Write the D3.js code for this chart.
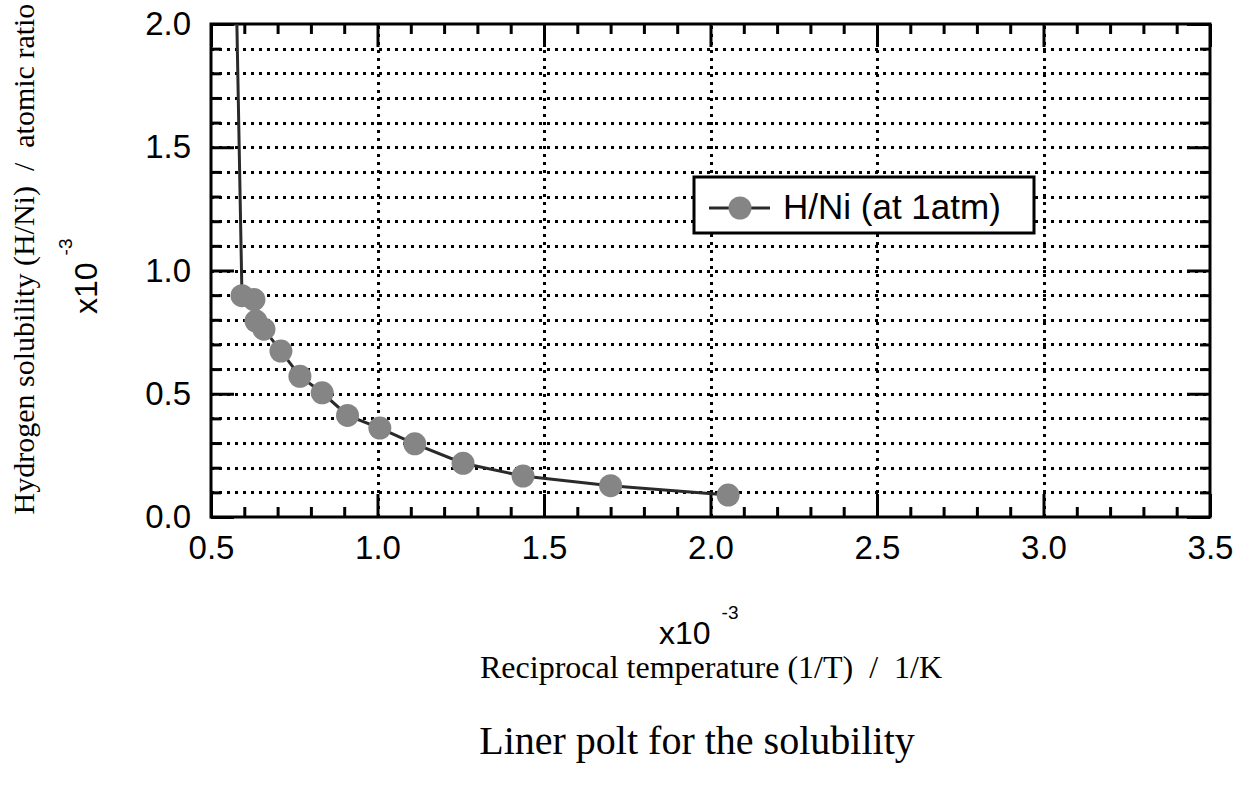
<!DOCTYPE html>
<html><head><meta charset="utf-8">
<script src="https://cdn.jsdelivr.net/npm/d3@7"></script>
<style>body{margin:0;background:#fff} svg{display:block}</style>
</head><body><svg id="chart" width="1245" height="787"></svg>
<script>
// ---- data (x: 1/T in 1e-3 1/K, y: H/Ni in 1e-3) ----
const seriesName = "H/Ni (at 1atm)";
const xValues = [0.577, 0.593, 0.629, 0.635, 0.659, 0.710, 0.767, 0.834, 0.910, 1.007, 1.112, 1.257, 1.437, 1.700, 2.053];
const yValues = [2.05, 0.898, 0.882, 0.795, 0.762, 0.673, 0.571, 0.504, 0.412, 0.361, 0.297, 0.218, 0.166, 0.127, 0.089];
const xTickValues = [0.5, 1.0, 1.5, 2.0, 2.5, 3.0, 3.5];
const xTickLabels = ["0.5", "1.0", "1.5", "2.0", "2.5", "3.0", "3.5"];
const yTickValues = [0.0, 0.5, 1.0, 1.5, 2.0];
const yTickLabels = ["0.0", "0.5", "1.0", "1.5", "2.0"];
const xMinorTicks = d3.range(5, 36).map(i => i / 10);
const yMinorTicks = d3.range(0, 21).map(i => i / 10);
const xGridValues = [1.0, 1.5, 2.0, 2.5, 3.0];
const yGridValues = d3.range(1, 20).map(i => i / 10);
const xTitle = "Reciprocal temperature (1/T)  /  1/K";
const yTitle = "Hydrogen solubility (H/Ni)  /  atomic ratio";
const chartTitle = "Liner polt for the solubility";
const multiplierBase = "x10";
const multiplierExp = "-3";

const SANS = "'Liberation Sans', Arial, Helvetica, sans-serif";
const SERIF = "'Liberation Serif', 'Times New Roman', serif";

const svg = d3.select("#chart");
const L = 211, T = 24, W = 999, H = 493;
const x = d3.scaleLinear().domain([0.5, 3.5]).range([0, W]);
const y = d3.scaleLinear().domain([0, 2]).range([H, 0]);
const g = svg.append("g").attr("transform", `translate(${L},${T})`);

const dotted = sel => sel.selectAll("line")
  .attr("stroke", "#000").attr("stroke-width", 3).attr("stroke-dasharray", "3,5")
  .attr("shape-rendering", "crispEdges");

// gridlines
const gy = g.append("g").call(d3.axisLeft(y).tickValues(yGridValues).tickSize(-W).tickFormat(""));
gy.select(".domain").remove(); dotted(gy);
const gx = g.append("g").attr("transform", `translate(0,${H})`)
  .call(d3.axisBottom(x).tickValues(xGridValues).tickSize(-H).tickFormat(""));
gx.select(".domain").remove(); dotted(gx);

// ticks (inward)
function ticks(axis, vals, size, tr) {
  const a = g.append("g").attr("transform", tr)
    .call(axis.tickValues(vals).tickSize(size).tickFormat(""));
  a.select(".domain").remove();
  a.selectAll("line").attr("stroke", "#000").attr("stroke-width", 3);
}
const isMajor = v => Math.abs(v * 2 - Math.round(v * 2)) < 1e-6;
ticks(d3.axisBottom(x), xMinorTicks.filter(v => !isMajor(v)), -10, `translate(0,${H})`);
ticks(d3.axisBottom(x), xTickValues, -23, `translate(0,${H})`);
ticks(d3.axisTop(x), xMinorTicks.filter(v => !isMajor(v)), -10, `translate(0,0)`);
ticks(d3.axisTop(x), xTickValues, -23, `translate(0,0)`);
ticks(d3.axisLeft(y), yMinorTicks.filter(v => !isMajor(v)), -10, `translate(0,0)`);
ticks(d3.axisLeft(y), yTickValues, -23, `translate(0,0)`);
ticks(d3.axisRight(y), yMinorTicks.filter(v => !isMajor(v)), -10, `translate(${W},0)`);
ticks(d3.axisRight(y), yTickValues, -23, `translate(${W},0)`);

// frame
g.append("rect").attr("width", W).attr("height", H)
  .attr("fill", "none").attr("stroke", "#000").attr("stroke-width", 3);

// tick labels
const xl = g.append("g").attr("transform", `translate(0,${H})`)
  .call(d3.axisBottom(x).tickValues(xTickValues).tickSize(0).tickPadding(19)
    .tickFormat((d, i) => xTickLabels[i]));
xl.select(".domain").remove();
xl.selectAll("text").attr("font-family", SANS).attr("font-size", 33).attr("fill", "#000");
const yl = g.append("g")
  .call(d3.axisLeft(y).tickValues(yTickValues).tickSize(0).tickPadding(20)
    .tickFormat((d, i) => yTickLabels[i]));
yl.select(".domain").remove();
yl.selectAll("text").attr("font-family", SANS).attr("font-size", 33).attr("fill", "#000");

// data
svg.append("defs").append("clipPath").attr("id", "clip")
  .append("rect").attr("width", W).attr("height", H);
const pts = xValues.map((v, i) => ({ x: v, y: yValues[i] }));
const plot = g.append("g").attr("clip-path", "url(#clip)");
plot.append("path").datum(pts)
  .attr("fill", "none").attr("stroke", "#2a2a2a").attr("stroke-width", 3)
  .attr("d", d3.line().x(d => x(d.x)).y(d => y(d.y)));
plot.selectAll("circle").data(pts).join("circle")
  .attr("cx", d => x(d.x)).attr("cy", d => y(d.y)).attr("r", 11.5)
  .attr("fill", "#858585");

// legend
const lg = svg.append("g").attr("transform", "translate(694,177)");
lg.append("rect").attr("width", 340).attr("height", 56)
  .attr("fill", "#fff").attr("stroke", "#000").attr("stroke-width", 3);
lg.append("line").attr("x1", 15).attr("x2", 76).attr("y1", 31).attr("y2", 31)
  .attr("stroke", "#2a2a2a").attr("stroke-width", 3);
lg.append("circle").attr("cx", 46).attr("cy", 31).attr("r", 11.5).attr("fill", "#858585");
lg.append("text").attr("x", 89).attr("y", 42).attr("font-family", SANS)
  .attr("font-size", 35).attr("fill", "#000").text(seriesName);

// x multiplier and title
const xm = svg.append("text").attr("x", 659).attr("y", 644)
  .attr("font-family", SANS).attr("fill", "#000");
xm.append("tspan").attr("font-size", 32).text(multiplierBase);
xm.append("tspan").attr("font-size", 19).attr("dx", 11).attr("dy", -25).text(multiplierExp);

svg.append("text").attr("x", 711).attr("y", 678).attr("text-anchor", "middle")
  .attr("font-family", SERIF).attr("font-size", 32).attr("fill", "#000")
  .style("white-space", "pre").text(xTitle);

svg.append("text").attr("x", 697).attr("y", 754).attr("text-anchor", "middle")
  .attr("font-family", SERIF).attr("font-size", 40).attr("fill", "#000")
  .text(chartTitle);

// y title and multiplier
svg.append("text").attr("transform", "translate(34,259) rotate(-90)")
  .attr("text-anchor", "middle")
  .attr("font-family", SERIF).attr("font-size", 30).attr("fill", "#000")
  .style("white-space", "pre").text(yTitle);

const ym = svg.append("text").attr("transform", "translate(97,314) rotate(-90)")
  .attr("font-family", SANS).attr("fill", "#000");
ym.append("tspan").attr("font-size", 32).text(multiplierBase);
ym.append("tspan").attr("font-size", 19).attr("dx", 7).attr("dy", -25).text(multiplierExp);
</script>
</body></html>
